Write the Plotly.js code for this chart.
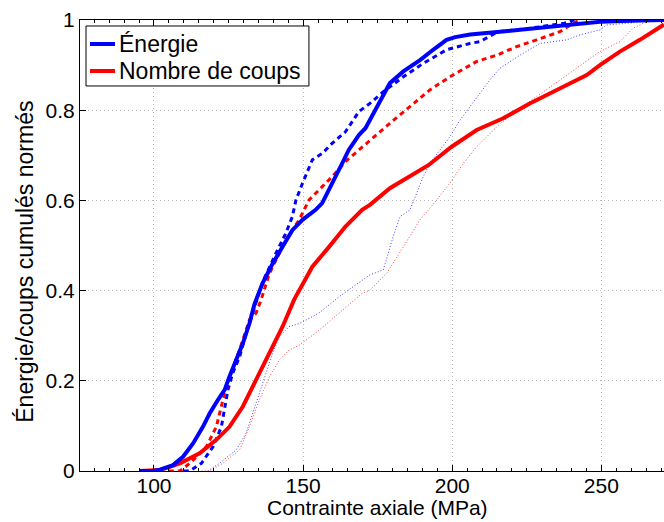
<!DOCTYPE html>
<html>
<head>
<meta charset="utf-8">
<script src="https://cdn.plot.ly/plotly-3.0.1.min.js"></script>
<style>html,body{margin:0;padding:0;background:#fff;}#chart{width:664px;height:522px;}</style>
</head>
<body>
<div id="chart"></div>
<script>
// Énergie (blue) – three tests
const energie1X = [95, 100, 102, 106.4, 109.8, 113.1, 116.4, 118.7, 121.4, 123.7, 125.3, 127.6, 129.8, 132, 133.7, 136.4, 139.8, 143.1, 146.4, 149.8, 154.2, 156.4, 158.7, 160.9, 163.1, 165.3, 168.7, 170.9, 172.4, 175.8, 179.1, 183.6, 189.2, 193.6, 198.1, 201, 206, 216, 229.4, 238.4, 249.5, 262, 271];
const energie1Y = [0, 0, 0.003, 0.013, 0.032, 0.061, 0.098, 0.128, 0.157, 0.18, 0.209, 0.246, 0.283, 0.327, 0.37, 0.416, 0.46, 0.497, 0.534, 0.557, 0.579, 0.594, 0.623, 0.653, 0.682, 0.712, 0.745, 0.76, 0.778, 0.823, 0.86, 0.886, 0.911, 0.934, 0.956, 0.962, 0.968, 0.974, 0.982, 0.989, 0.996, 0.999, 1.0];

const energie2X = [110, 112, 115.9, 119.8, 122.6, 123.7, 124.8, 126.4, 128.7, 130.9, 133.1, 136.5, 140.9, 144.2, 146.4, 147.6, 149.8, 152, 153.1, 156.4, 159.8, 164.2, 168.7, 172.4, 176.9, 183.6, 190.3, 198.1, 205.9, 209.3, 215.3, 226.4, 237.6, 241];
const energie2Y = [0, 0, 0.017, 0.054, 0.098, 0.143, 0.18, 0.217, 0.253, 0.305, 0.35, 0.42, 0.483, 0.527, 0.564, 0.601, 0.638, 0.675, 0.69, 0.704, 0.727, 0.752, 0.797, 0.815, 0.841, 0.874, 0.904, 0.934, 0.948, 0.952, 0.974, 0.982, 0.993, 1.0];

const energie3X = [118, 122, 127.6, 130.9, 133.1, 135.3, 137.6, 139.8, 142, 145.3, 148.7, 155.3, 162, 169.8, 172.4, 176.9, 180.2, 182.5, 185.8, 188.1, 190.3, 192.5, 195.9, 199.2, 202.6, 205.9, 209.3, 212.6, 216, 222.7, 229.4, 238.4, 242.8, 249.5, 251.8, 263, 271];
const energie3Y = [0, 0.017, 0.047, 0.084, 0.128, 0.172, 0.217, 0.261, 0.298, 0.32, 0.327, 0.35, 0.386, 0.423, 0.435, 0.446, 0.52, 0.564, 0.579, 0.616, 0.653, 0.682, 0.712, 0.741, 0.778, 0.808, 0.837, 0.867, 0.893, 0.922, 0.948, 0.956, 0.967, 0.978, 0.989, 0.996, 1.0];

// Nombre de coups (red) – three tests
const coups1X = [95, 100, 102, 108.7, 115.3, 120.9, 125.3, 129.8, 133.1, 136.4, 139.8, 143.1, 147, 153.1, 158.7, 164.2, 169.8, 172.4, 179.1, 185.8, 192, 199.8, 208.2, 217.1, 226, 238.4, 245.1, 249.5, 256.2, 262.9, 271];
const coups1Y = [0, 0, 0.002, 0.017, 0.039, 0.069, 0.098, 0.143, 0.187, 0.231, 0.276, 0.32, 0.38, 0.453, 0.497, 0.542, 0.579, 0.59, 0.627, 0.653, 0.678, 0.719, 0.756, 0.782, 0.815, 0.856, 0.878, 0.9, 0.93, 0.956, 0.99];

const coups2X = [105, 108.7, 112, 117.6, 120.9, 123.1, 125.3, 128.7, 132, 134.2, 135.9, 138.7, 144.2, 148.7, 152, 155.3, 159.8, 164.2, 170.9, 172.4, 179.1, 185.8, 192.5, 199.2, 208.2, 214.9, 221.6, 228.3, 236.1, 240.6, 242.8];
const coups2Y = [0, 0, 0.017, 0.054, 0.098, 0.157, 0.209, 0.268, 0.335, 0.35, 0.379, 0.438, 0.512, 0.557, 0.601, 0.623, 0.653, 0.686, 0.725, 0.734, 0.771, 0.808, 0.845, 0.874, 0.908, 0.922, 0.941, 0.956, 0.974, 0.993, 1.0];

const coups3X = [116, 118.7, 123.1, 128.7, 132, 135.3, 138.7, 142, 145.3, 148.7, 155, 162, 169.8, 172.4, 178, 183.6, 189.2, 194.8, 199.2, 203.7, 208.2, 214.9, 221.6, 228.3, 236.1, 242.8, 249.5, 256.2, 260.7, 264, 268];
const coups3Y = [0, 0, 0.017, 0.047, 0.098, 0.157, 0.209, 0.246, 0.268, 0.279, 0.31, 0.35, 0.394, 0.401, 0.438, 0.497, 0.557, 0.601, 0.638, 0.682, 0.719, 0.763, 0.8, 0.83, 0.867, 0.9, 0.93, 0.952, 0.982, 0.993, 1.0];

const legendNames = ['Énergie', 'Nombre de coups'];
const xTitle = 'Contrainte axiale (MPa)';
const yTitle = 'Énergie/coups cumulés normés';

const BLUE = '#0000ff', RED = '#ff0000';
const FONT = 'Liberation Sans, Arial, Helvetica, sans-serif';

const traces = [
  {x: energie3X, y: energie3Y, mode: 'lines', line: {color: BLUE, width: 1, dash: '1px,2px'}, opacity: 0.75, showlegend: false, hoverinfo: 'skip'},
  {x: coups3X, y: coups3Y, mode: 'lines', line: {color: RED, width: 1, dash: '1px,2px'}, opacity: 0.75, showlegend: false, hoverinfo: 'skip'},
  {x: energie2X, y: energie2Y, mode: 'lines', line: {color: BLUE, width: 3, dash: '5px,4px'}, showlegend: false},
  {x: coups2X, y: coups2Y, mode: 'lines', line: {color: RED, width: 3, dash: '5px,4px'}, showlegend: false},
  {x: coups1X, y: coups1Y, mode: 'lines', name: legendNames[1], line: {color: RED, width: 4}, showlegend: false},
  {x: energie1X, y: energie1Y, mode: 'lines', name: legendNames[0], line: {color: BLUE, width: 4}, showlegend: false}
];

// legend box geometry (paper fractions)
const legColors = [BLUE, RED];
const legRowY = [0.9468, 0.8869];
const shapes = [
  {type: 'rect', xref: 'paper', yref: 'paper', x0: 0.0103, x1: 0.392, y0: 0.8537, y1: 0.9867,
   line: {color: '#000', width: 1}, fillcolor: '#ffffff', layer: 'above'}
];
const annotations = [
  {text: xTitle, xref: 'paper', yref: 'paper', x: 0.5086, y: -0.0820, xanchor: 'center', yanchor: 'middle', borderpad: 0, showarrow: false, font: {family: FONT, size: 21, color: '#000'}},
  {text: yTitle, xref: 'paper', yref: 'paper', x: -0.0955, y: 0.4645, xanchor: 'center', yanchor: 'middle', textangle: -90, showarrow: false, font: {family: FONT, size: 23, color: '#000'}}
];
legendNames.forEach((name, i) => {
  shapes.push({type: 'line', xref: 'paper', yref: 'paper', x0: 0.0171, x1: 0.0599, y0: legRowY[i], y1: legRowY[i],
    line: {color: legColors[i], width: 4}, layer: 'above'});
  annotations.push({text: name, xref: 'paper', yref: 'paper', x: 0.0634, y: legRowY[i], xanchor: 'left', yanchor: 'middle',
    showarrow: false, font: {family: FONT, size: 23, color: '#000'}});
});

const layout = {
  width: 664, height: 522,
  margin: {l: 80, r: 0, t: 20, b: 51, pad: 0},
  paper_bgcolor: '#ffffff', plot_bgcolor: '#ffffff',
  font: {family: FONT, size: 21, color: '#000'},
  showlegend: false,
  xaxis: {
    range: [75.2, 271], tickmode: 'linear', tick0: 0, dtick: 50,
    ticks: 'inside', ticklen: 6, tickcolor: '#000', tickwidth: 1,
    ticklabelstandoff: -4,
    showline: true, linecolor: '#000', linewidth: 1, mirror: 'ticks',
    showgrid: true, gridcolor: '#b8b8b8', griddash: '1px,3px', gridwidth: 1,
    zeroline: false,
    tickfont: {family: FONT, size: 21, color: '#000'},
    minor: {tick0: 0, dtick: 5, ticks: 'inside', ticklen: 3, tickcolor: '#000', showgrid: false}
  },
  yaxis: {
    range: [0, 1], tickmode: 'linear', tick0: 0, dtick: 0.2,
    ticks: 'inside', ticklen: 6, tickcolor: '#000', tickwidth: 1,
    showline: true, linecolor: '#000', linewidth: 1, mirror: false,
    showgrid: true, gridcolor: '#b8b8b8', griddash: '1px,3px', gridwidth: 1,
    zeroline: false,
    tickfont: {family: FONT, size: 21, color: '#000'}
  },
  shapes: shapes,
  annotations: annotations
};

Plotly.newPlot('chart', traces, layout, {displayModeBar: false, staticPlot: true});
</script>
</body>
</html>
